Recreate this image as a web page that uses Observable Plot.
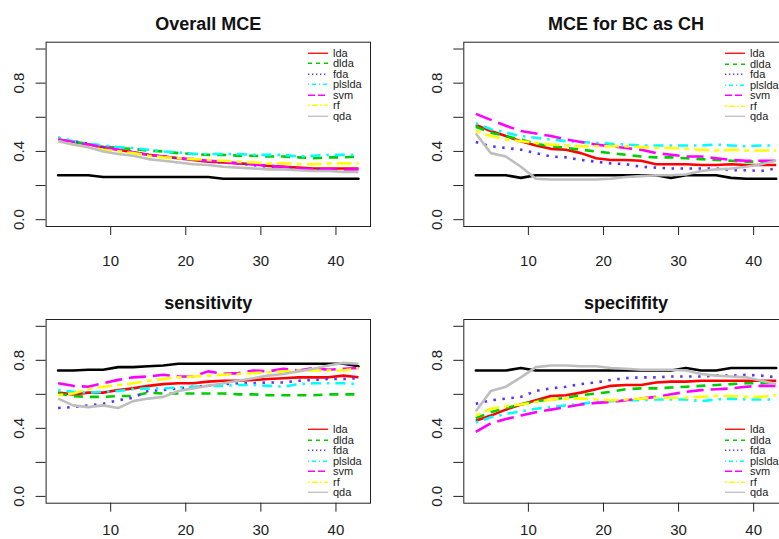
<!DOCTYPE html>
<html><head><meta charset="utf-8">
<script src="https://cdn.jsdelivr.net/npm/d3@7"></script>
<script src="https://cdn.jsdelivr.net/npm/@observablehq/plot@0.6"></script>
<style>
html,body{margin:0;padding:0;background:#fff;overflow:hidden;}
#root{position:relative;width:779px;height:539px;overflow:hidden;background:#fff;font-family:"Liberation Sans",Arial,Helvetica,sans-serif;}
.panel{position:absolute;}
.legend{position:absolute;font-size:11px;color:#222;}
.legend .row{display:flex;align-items:center;height:10.5px;line-height:10.5px;white-space:nowrap;}
.legend svg{margin-right:5px;flex:none;}
</style></head><body><div id="root"></div><script>
// number of genes (x)
const xs = [3,5,7,9,11,13,15,17,19,21,23,25,27,29,31,33,35,37,39,41,43];
const xTicks = [10,20,30,40];
const yTicks = [0,0.2,0.4,0.6,0.8,1.0];
const yLabels = [0,0.4,0.8];
const methods = ["lda","dlda","fda","plslda","svm","rf","qda"];
const titles = ["Overall MCE","MCE for BC as CH","sensitivity","specififity"];

// Overall MCE
const overall_base   = [0.26,0.26,0.26,0.25,0.25,0.25,0.25,0.25,0.25,0.25,0.25,0.24,0.24,0.24,0.24,0.24,0.24,0.24,0.24,0.24,0.24];
const overall_lda    = [0.47,0.455,0.44,0.425,0.41,0.395,0.38,0.37,0.36,0.35,0.34,0.335,0.33,0.325,0.315,0.31,0.305,0.30,0.30,0.30,0.30];
const overall_dlda   = [0.47,0.455,0.445,0.43,0.42,0.415,0.405,0.40,0.39,0.385,0.38,0.38,0.375,0.375,0.37,0.37,0.365,0.36,0.365,0.365,0.37];
const overall_fda    = [0.48,0.46,0.445,0.425,0.41,0.395,0.38,0.37,0.36,0.35,0.34,0.335,0.33,0.32,0.31,0.305,0.30,0.295,0.295,0.29,0.29];
const overall_plslda = [0.48,0.46,0.445,0.435,0.425,0.42,0.41,0.40,0.395,0.385,0.385,0.385,0.385,0.38,0.38,0.38,0.37,0.375,0.38,0.38,0.38];
const overall_svm    = [0.47,0.455,0.44,0.425,0.41,0.395,0.38,0.37,0.36,0.355,0.345,0.34,0.33,0.325,0.315,0.31,0.30,0.295,0.295,0.29,0.295];
const overall_rf     = [0.46,0.44,0.425,0.41,0.40,0.39,0.375,0.365,0.36,0.355,0.35,0.345,0.34,0.335,0.33,0.33,0.325,0.325,0.33,0.33,0.33];
const overall_qda    = [0.46,0.44,0.425,0.40,0.385,0.375,0.355,0.345,0.335,0.325,0.32,0.31,0.305,0.30,0.295,0.295,0.29,0.285,0.285,0.28,0.28];

// MCE for BC as CH
const bc_base   = [0.26,0.26,0.26,0.245,0.26,0.26,0.26,0.26,0.26,0.26,0.26,0.26,0.26,0.245,0.26,0.26,0.26,0.245,0.24,0.24,0.24];
const bc_lda    = [0.555,0.52,0.49,0.46,0.435,0.415,0.41,0.39,0.36,0.35,0.35,0.345,0.325,0.325,0.325,0.32,0.32,0.325,0.32,0.32,0.32];
const bc_dlda   = [0.545,0.51,0.49,0.47,0.445,0.43,0.42,0.41,0.40,0.39,0.38,0.37,0.365,0.365,0.36,0.355,0.35,0.345,0.34,0.34,0.34];
const bc_fda    = [0.455,0.43,0.42,0.41,0.39,0.37,0.365,0.35,0.34,0.33,0.325,0.31,0.305,0.30,0.30,0.30,0.30,0.29,0.29,0.285,0.30];
const bc_plslda = [0.565,0.53,0.51,0.49,0.48,0.47,0.46,0.455,0.45,0.445,0.44,0.435,0.435,0.435,0.435,0.435,0.44,0.435,0.43,0.435,0.435];
const bc_svm    = [0.62,0.585,0.55,0.52,0.505,0.49,0.47,0.455,0.44,0.43,0.42,0.41,0.39,0.38,0.37,0.37,0.36,0.35,0.345,0.345,0.345];
const bc_rf     = [0.52,0.49,0.47,0.46,0.45,0.44,0.435,0.43,0.43,0.43,0.43,0.425,0.42,0.42,0.415,0.41,0.405,0.41,0.405,0.405,0.405];
const bc_qda    = [0.505,0.39,0.37,0.31,0.24,0.235,0.235,0.235,0.235,0.24,0.25,0.255,0.26,0.26,0.265,0.285,0.295,0.30,0.31,0.325,0.345];

// sensitivity
const sens_base   = [0.74,0.74,0.745,0.745,0.76,0.76,0.765,0.77,0.78,0.78,0.78,0.78,0.78,0.78,0.78,0.78,0.78,0.78,0.78,0.78,0.765];
const sens_lda    = [0.61,0.60,0.61,0.61,0.625,0.635,0.65,0.66,0.665,0.665,0.675,0.68,0.68,0.685,0.69,0.695,0.70,0.70,0.70,0.71,0.70];
const sens_dlda   = [0.605,0.59,0.585,0.585,0.59,0.59,0.61,0.605,0.605,0.605,0.605,0.605,0.60,0.60,0.595,0.595,0.595,0.595,0.60,0.60,0.60];
const sens_fda    = [0.52,0.525,0.535,0.545,0.565,0.58,0.62,0.625,0.635,0.645,0.65,0.66,0.665,0.665,0.67,0.67,0.68,0.685,0.69,0.69,0.695];
const sens_plslda = [0.625,0.615,0.61,0.615,0.62,0.63,0.635,0.635,0.64,0.645,0.65,0.65,0.655,0.655,0.65,0.645,0.66,0.665,0.665,0.665,0.66];
const sens_svm    = [0.665,0.65,0.645,0.665,0.685,0.70,0.705,0.715,0.705,0.705,0.735,0.72,0.725,0.74,0.735,0.75,0.74,0.755,0.745,0.75,0.755];
const sens_rf     = [0.595,0.605,0.63,0.645,0.655,0.665,0.68,0.69,0.70,0.705,0.71,0.715,0.72,0.725,0.73,0.735,0.74,0.74,0.74,0.74,0.755];
const sens_qda    = [0.575,0.535,0.525,0.535,0.52,0.56,0.575,0.585,0.62,0.635,0.65,0.665,0.68,0.695,0.71,0.72,0.735,0.75,0.77,0.785,0.78];

// specififity
const spec_base   = [0.74,0.74,0.74,0.755,0.74,0.74,0.74,0.74,0.74,0.74,0.74,0.74,0.74,0.74,0.755,0.74,0.74,0.755,0.755,0.755,0.755];
const spec_lda    = [0.445,0.475,0.51,0.54,0.565,0.59,0.595,0.61,0.63,0.65,0.655,0.655,0.67,0.675,0.675,0.68,0.68,0.68,0.68,0.68,0.68];
const spec_dlda   = [0.46,0.495,0.52,0.54,0.56,0.57,0.58,0.595,0.605,0.615,0.63,0.635,0.635,0.64,0.645,0.65,0.655,0.66,0.665,0.665,0.67];
const spec_fda    = [0.545,0.565,0.575,0.585,0.62,0.635,0.645,0.66,0.67,0.685,0.695,0.70,0.70,0.705,0.705,0.705,0.71,0.71,0.715,0.71,0.70];
const spec_plslda = [0.435,0.465,0.485,0.50,0.515,0.525,0.535,0.545,0.555,0.56,0.565,0.565,0.57,0.57,0.57,0.56,0.57,0.575,0.57,0.57,0.57];
const spec_svm    = [0.38,0.43,0.455,0.475,0.495,0.51,0.525,0.54,0.55,0.555,0.565,0.575,0.585,0.60,0.615,0.625,0.63,0.635,0.645,0.65,0.65];
const spec_rf     = [0.475,0.515,0.53,0.54,0.555,0.57,0.575,0.575,0.57,0.565,0.57,0.575,0.58,0.58,0.58,0.585,0.59,0.59,0.585,0.585,0.595];
const spec_qda    = [0.50,0.62,0.645,0.70,0.76,0.77,0.77,0.765,0.765,0.755,0.75,0.745,0.745,0.745,0.74,0.72,0.71,0.705,0.70,0.68,0.66];

// styles
const colors = ["#FF0000","#00CD00","#5A30FF","#00FFFF","#FF00FF","#FFFF00","#BEBEBE"];
const dashPlot = [null,"9 7","2.5 6.5","2.5 6 10 6","17 7","5 5 15 5",null];
const dashLegend = [null,"4 4","1.3 2.7","1 3 4 3","7 3","2 2 6 2",null];

const panels = [
  {title: titles[0], base: overall_base, series: [overall_lda,overall_dlda,overall_fda,overall_plslda,overall_svm,overall_rf,overall_qda],
   left: 0, top: 0, width: 390, height: 270, mL: 45.6, mR: 20, mT: 41.7, mB: 44, titleDy: -17.5, xPad: 20, legLeft: 308, legTop: 47.5},
  {title: titles[1], base: bc_base, series: [bc_lda,bc_dlda,bc_fda,bc_plslda,bc_svm,bc_rf,bc_qda],
   left: 390, top: 0, width: 410, height: 270, mL: 73.3, mR: 12.3, mT: 41.7, mB: 44, titleDy: -17.5, xPad: 20, legLeft: 725, legTop: 48},
  {title: titles[2], base: sens_base, series: [sens_lda,sens_dlda,sens_fda,sens_plslda,sens_svm,sens_rf,sens_qda],
   left: 0, top: 270, width: 390, height: 269, mL: 45.6, mR: 20, mT: 49, mB: 36.3, titleDy: -16, xPad: 12, legLeft: 308, legTop: 424},
  {title: titles[3], base: spec_base, series: [spec_lda,spec_dlda,spec_fda,spec_plslda,spec_svm,spec_rf,spec_qda],
   left: 390, top: 270, width: 410, height: 269, mL: 73.3, mR: 12.3, mT: 49, mB: 36.3, titleDy: -16, xPad: 12, legLeft: 725, legTop: 424}
];

const root = document.getElementById("root");
const fmtY = d => yLabels.some(t => Math.abs(t - d) < 1e-9) ? d.toFixed(1) : "";

panels.forEach(p => {
  const lineMarks = [
    Plot.line(p.base, {x: (d, i) => xs[i], y: d => d, stroke: "#000", strokeWidth: 2.6})
  ];
  p.series.forEach((vals, k) => {
    lineMarks.push(Plot.line(vals, {
      x: (d, i) => xs[i], y: d => d,
      stroke: colors[k], strokeWidth: 2.6,
      strokeDasharray: dashPlot[k] || undefined,
      strokeLinecap: "butt", strokeLinejoin: "round"
    }));
  });
  const svg = Plot.plot({
    width: p.width, height: p.height,
    marginLeft: p.mL, marginRight: p.mR, marginTop: p.mT, marginBottom: p.mB,
    style: {fontFamily: '"Liberation Sans", Arial, Helvetica, sans-serif', fontSize: "15px", color: "#222", background: "transparent", overflow: "visible"},
    x: {domain: [1.4, 44.6]},
    y: {domain: [-0.04, 1.04]},
    marks: [
      ...lineMarks,
      Plot.frame({stroke: "#222", strokeWidth: 1}),
      Plot.axisY({ticks: yTicks, tickSize: 10, tickPadding: 11.6, tickRotate: -90, tickFormat: fmtY, fontSize: 15}),
      Plot.axisX({ticks: xTicks, tickSize: 9, tickPadding: p.xPad, tickFormat: d => String(d), fontSize: 15}),
      Plot.text([p.title], {text: d => d, frameAnchor: "top", dy: p.titleDy, lineAnchor: "middle", fontSize: 18, fontWeight: "bold", fill: "#111"})
    ]
  });
  svg.classList.add("panel");
  svg.style.left = p.left + "px";
  svg.style.top = p.top + "px";
  root.appendChild(svg);

  // legend (no box)
  const leg = document.createElement("div");
  leg.className = "legend";
  leg.style.left = p.legLeft + "px";
  leg.style.top = p.legTop + "px";
  methods.forEach((m, k) => {
    const row = document.createElement("div");
    row.className = "row";
    const ns = "http://www.w3.org/2000/svg";
    const s = document.createElementNS(ns, "svg");
    s.setAttribute("width", 20); s.setAttribute("height", 10.5);
    const ln = document.createElementNS(ns, "line");
    ln.setAttribute("x1", 0); ln.setAttribute("x2", 20);
    ln.setAttribute("y1", 5.25); ln.setAttribute("y2", 5.25);
    ln.setAttribute("stroke", colors[k]); ln.setAttribute("stroke-width", 1.3);
    if (dashLegend[k]) ln.setAttribute("stroke-dasharray", dashLegend[k]);
    s.appendChild(ln);
    const t = document.createElement("span");
    t.textContent = m;
    row.appendChild(s); row.appendChild(t);
    leg.appendChild(row);
  });
  root.appendChild(leg);
});
</script></body></html>
